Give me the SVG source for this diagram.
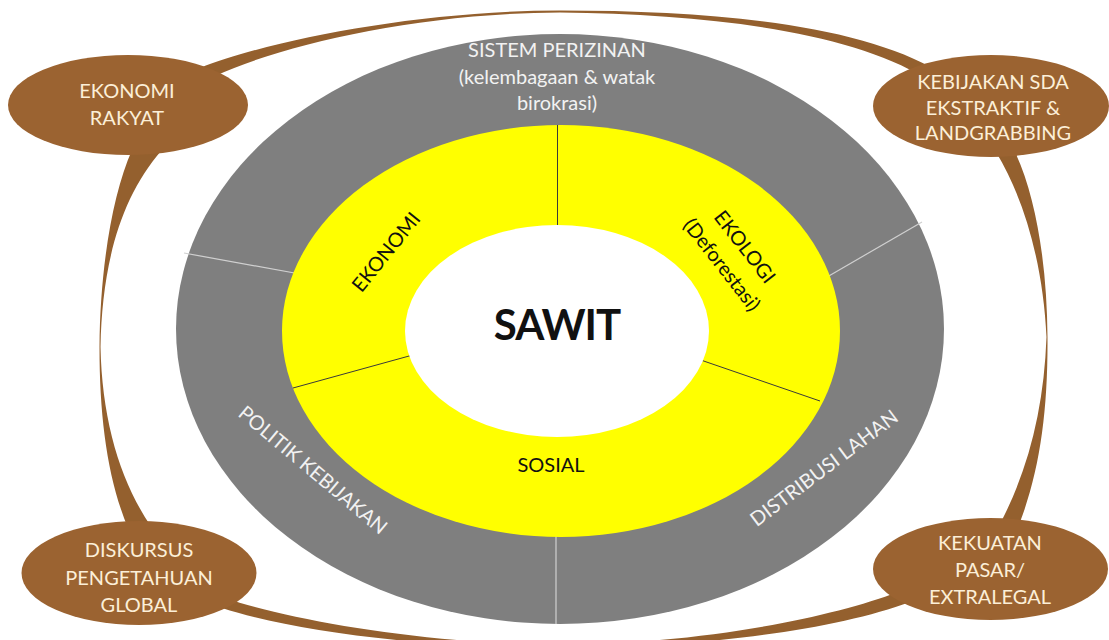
<svg xmlns="http://www.w3.org/2000/svg" width="1109" height="640" viewBox="0 0 1109 640">
  <style>
    .bg { fill: #ffffff; }
    .outer-ring { fill: #7f7f7f; }
    .inner-ring { fill: #ffff00; }
    .core { fill: #ffffff; }
    .div-gray { stroke: #d0d0d0; stroke-width: 1.2; fill: none; }
    .div-yellow { stroke: #3a3a3a; stroke-width: 1; fill: none; }
    .bubble { fill: #9b6331; }
    .swoosh { fill: #94602e; }
    text { font-family: "Lato", "Open Sans", "Liberation Sans", sans-serif; font-size: 20px; text-anchor: middle; }
    .light { fill: #f2f2f2; }
    .dark { fill: #111111; }
    .cream { fill: #fcefd8; }
    .title { font-size: 42px; font-weight: 700; letter-spacing: -1px; }
  </style>

  <rect class="bg" x="0" y="0" width="1109" height="640"/>

  <!-- tapered brown arcs linking the four outer factors -->
  <g id="connectors">
    <path class="swoosh" d="M200,68 C270,40 420,10.5 560,10.5 C720,10.5 860,25 940,72 L925,78 C850,32 710,14 560,12.5 C420,13 285,44 215,76 Z"/>
    <path class="swoosh" d="M132,150 C112,195 100,270 99.5,347 C99.5,420 108,480 128,528 L150,525 C120,480 102,420 100.5,347 C102,270 118,200 162,150 Z"/>
    <path class="swoosh" d="M1014,150 C1036,195 1047,265 1047.5,337 C1048,410 1040,470 1020,522 L1002,520 C1030,465 1044,405 1046.5,337 C1043,265 1025,200 996,152 Z"/>
    <path class="swoosh" d="M225,598 C290,620 420,643 555,645 C700,644 830,618 898,592 L910,602 C835,630 700,648 555,648 C420,648 290,630 222,608 Z"/>
  </g>

  <!-- outer grey ring: governance factors -->
  <g id="ring-governance">
    <ellipse class="outer-ring" cx="560" cy="329" rx="384" ry="295"/>
    <line class="div-gray" x1="184" y1="253" x2="300" y2="274"/>
    <line class="div-gray" x1="815" y1="284" x2="922" y2="222"/>
    <line class="div-gray" x1="556" y1="520" x2="556" y2="624"/>
  </g>

  <!-- middle yellow ring: impact dimensions -->
  <g id="ring-impact">
    <ellipse class="inner-ring" cx="561" cy="331" rx="279" ry="206"/>
    <line class="div-yellow" x1="557.5" y1="125" x2="557.5" y2="235"/>
    <line class="div-yellow" x1="293" y1="388" x2="420" y2="353"/>
    <line class="div-yellow" x1="692" y1="357" x2="820" y2="401"/>
  </g>

  <!-- centre -->
  <g id="sawit">
    <ellipse class="core" cx="557" cy="331" rx="152" ry="106"/>
    <text class="dark title" x="557" y="340">SAWIT</text>
  </g>

  <g id="label-ekonomi">
    <text class="dark" transform="translate(386,252) rotate(-51)" y="7">EKONOMI</text>
  </g>
  <g id="label-ekologi" transform="translate(733,256) rotate(52)">
    <text class="dark" y="-8">EKOLOGI</text>
    <text class="dark" y="21">(Deforestasi)</text>
  </g>
  <g id="label-sosial">
    <text class="dark" x="551" y="472">SOSIAL</text>
  </g>

  <g id="label-perizinan">
    <text class="light" x="557" y="57">SISTEM PERIZINAN</text>
    <text class="light" x="557" y="84">(kelembagaan &amp; watak</text>
    <text class="light" x="557" y="110">birokrasi)</text>
  </g>
  <g id="label-politik">
    <text class="light" transform="translate(313,470) rotate(40)" y="7">POLITIK KEBIJAKAN</text>
  </g>
  <g id="label-distribusi">
    <text class="light" transform="translate(824,468) rotate(-37)" y="7">DISTRIBUSI LAHAN</text>
  </g>

  <!-- outer factor bubbles -->
  <g id="ekonomi-rakyat">
    <ellipse class="bubble" cx="128" cy="105" rx="120" ry="50"/>
    <text class="cream" x="127" y="98">EKONOMI</text>
    <text class="cream" x="127" y="125">RAKYAT</text>
  </g>
  <g id="kebijakan-sda">
    <ellipse class="bubble" cx="991" cy="106" rx="118" ry="51"/>
    <text class="cream" x="993" y="89">KEBIJAKAN SDA</text>
    <text class="cream" x="993" y="115">EKSTRAKTIF &amp;</text>
    <text class="cream" x="993" y="140">LANDGRABBING</text>
  </g>
  <g id="diskursus">
    <ellipse class="bubble" cx="139" cy="573" rx="117.5" ry="52"/>
    <text class="cream" x="139" y="557">DISKURSUS</text>
    <text class="cream" x="139" y="585">PENGETAHUAN</text>
    <text class="cream" x="139" y="612">GLOBAL</text>
  </g>
  <g id="kekuatan-pasar">
    <ellipse class="bubble" cx="990.5" cy="569" rx="117.5" ry="51"/>
    <text class="cream" x="990" y="550">KEKUATAN</text>
    <text class="cream" x="990" y="577">PASAR/</text>
    <text class="cream" x="990" y="604">EXTRALEGAL</text>
  </g>
</svg>
